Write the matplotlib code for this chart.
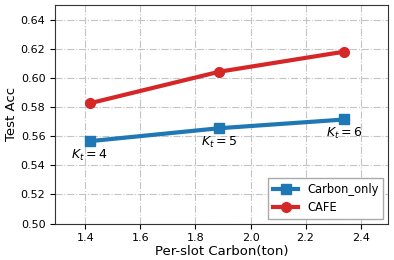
import matplotlib.pyplot as plt
import numpy as np

# Per-slot carbon (ton) and test accuracy
carbon = np.array([1.415, 1.886, 2.341])
carbon_only = np.array([0.5566, 0.5655, 0.5715])
cafe = np.array([0.5826, 0.6043, 0.6181])
k_labels = ['$K_t=4$', '$K_t=5$', '$K_t=6$']

fig, ax = plt.subplots(figsize=(3.94, 2.6), dpi=100)

ax.plot(carbon, carbon_only, 's-', color='#1f77b4', lw=3, ms=7, label='Carbon_only')
ax.plot(carbon, cafe, 'o-', color='#d62728', lw=3, ms=7, label='CAFE')

for x, y, lab in zip(carbon, carbon_only, k_labels):
    ax.annotate(lab, (x, y), xytext=(0, -10), textcoords='offset points',
                ha='center', va='center', fontsize=9)

ax.set_xlim(1.29, 2.5)
ax.set_ylim(0.50, 0.65)
ax.set_xticks([1.4, 1.6, 1.8, 2.0, 2.2, 2.4])
ax.set_yticks(np.arange(0.50, 0.641, 0.02))
ax.tick_params(labelsize=8)
ax.grid(True, linestyle='-.', color='#c4c4c4', lw=0.8)
ax.set_xlabel('Per-slot Carbon(ton)', fontsize=9.5, labelpad=1)
ax.set_ylabel('Test Acc', fontsize=9.5, labelpad=2)
for s in ax.spines.values():
    s.set_color('#333333')

ax.legend(loc='lower right', fontsize=8.3, framealpha=1, edgecolor='#aaaaaa',
          fancybox=False, handlelength=2.2, borderaxespad=0.4)

fig.subplots_adjust(left=0.14, right=0.985, top=0.98, bottom=0.14)
fig.savefig('out.png')
